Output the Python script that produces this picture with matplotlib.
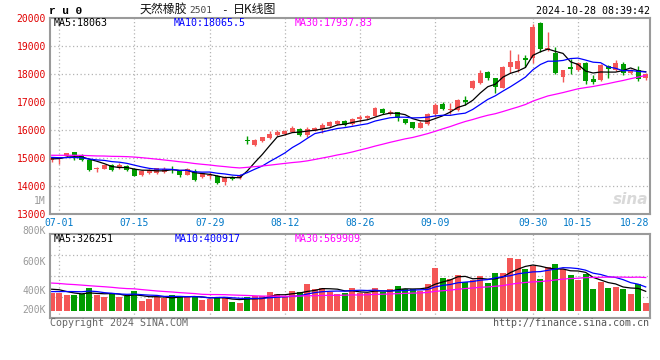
import numpy as np
import pandas as pd
import matplotlib
matplotlib.use("Agg")
import matplotlib.pyplot as plt
from matplotlib.transforms import ScaledTranslation

plt.rcParams['font.family'] = ['DejaVu Sans Mono']

# ru2501 daily bars, 2024-06-28 .. 2024-10-28
trade_days = pd.bdate_range('2024-06-28', '2024-10-28')
holidays = pd.to_datetime(['2024-09-16', '2024-09-17', '2024-10-01', '2024-10-02',
                           '2024-10-03', '2024-10-04', '2024-10-07'])
trade_days = trade_days[~trade_days.isin(holidays)]

open_ = [14930, 14960, 15070, 15210, 15110, 14920, 14600, 14620, 14740, 14650,
         14720, 14600, 14390, 14460, 14460, 14510, 14600, 14550, 14400, 14550,
         14320, 14360, 14350, 14160, 14330, 14280, 15630, 15470, 15590, 15710,
         15820, 15850, 15940, 16030, 15830, 15970, 16030, 16140, 16210, 16320,
         16200, 16380, 16420, 16510, 16740, 16560, 16630, 16380, 16270, 16080,
         16210, 16570, 16920, 16700, 16710, 17070, 17490, 17690, 18070, 17850,
         17510, 18260, 18170, 18560, 18560, 19830, 18860, 18760, 17900, 18240,
         18140, 18400, 17820, 17790, 18290, 18140, 18360, 18030, 18160, 17850]
high = [15020, 15040, 15190, 15230, 15140, 14950, 14680, 14760, 14790, 14830,
        14760, 14640, 14580, 14600, 14660, 14680, 14730, 14580, 14650, 14590,
        14480, 14500, 14380, 14340, 14360, 14420, 15790, 15680, 15760, 15960,
        16000, 16000, 16150, 16060, 16120, 16110, 16240, 16310, 16360, 16340,
        16420, 16520, 16540, 16810, 16800, 16730, 16660, 16410, 16300, 16330,
        16600, 16980, 16990, 16950, 17100, 17210, 17800, 18140, 18110, 17870,
        18270, 18860, 18700, 18680, 19780, 19870, 19510, 18950, 18160, 18520,
        18430, 18420, 17960, 18340, 18310, 18500, 18430, 18190, 18290, 18020]
low = [14840, 14780, 15050, 14940, 14910, 14530, 14510, 14590, 14540, 14620,
       14530, 14340, 14360, 14420, 14430, 14480, 14450, 14330, 14380, 14190,
       14290, 14250, 14080, 14020, 14220, 14260, 15490, 15420, 15560, 15690,
       15800, 15820, 15920, 15800, 15740, 15950, 15900, 16100, 16190, 16150,
       16170, 16290, 16400, 16490, 16570, 16540, 16310, 16230, 16050, 16060,
       16190, 16480, 16700, 16560, 16690, 16900, 17450, 17650, 17800, 17310,
       17490, 18030, 18080, 18240, 18380, 18800, 18820, 18000, 17720, 18000,
       18120, 17640, 17640, 17760, 17850, 18120, 17950, 18000, 17740, 17800]
close = [14990, 15020, 15170, 15090, 14930, 14580, 14650, 14740, 14580, 14750,
         14580, 14370, 14540, 14570, 14640, 14600, 14560, 14400, 14600, 14220,
         14450, 14410, 14120, 14310, 14240, 14390, 15610, 15640, 15740, 15840,
         15940, 15960, 16060, 15830, 16020, 16080, 16190, 16280, 16330, 16170,
         16380, 16450, 16500, 16790, 16620, 16650, 16420, 16260, 16080, 16240,
         16570, 16890, 16750, 16750, 17070, 16990, 17750, 18050, 17870, 17520,
         18240, 18440, 18460, 18500, 19690, 18880, 18920, 18050, 18140, 18190,
         18400, 17750, 17700, 18320, 18170, 18400, 18030, 18160, 17810, 18000]
# volume, thousand lots
volume = [306, 306, 267, 267, 284, 391, 260, 238, 284, 238,
          250, 340, 170, 192, 238, 221, 267, 238, 226, 255,
          182, 192, 238, 226, 153, 136, 238, 250, 255, 323,
          289, 238, 335, 323, 454, 374, 391, 323, 289, 306,
          386, 294, 294, 386, 318, 369, 420, 369, 369, 335,
          454, 726, 556, 539, 607, 488, 522, 590, 471, 641,
          641, 896, 879, 709, 760, 539, 743, 794, 709, 607,
          522, 629, 369, 488, 386, 403, 369, 284, 454, 136]

# 29 sessions before the window (not drawn, only feed the moving averages;
# estimated from where the MA lines start)
earlier_close = [15060, 15150, 15100, 15000, 14900, 14950, 14850, 14900, 14850, 14800,
                 14850, 15200, 15350, 15450, 15500, 15420, 15370, 15420, 15320, 15270,
                 15150, 15100, 15050, 15080, 15000, 14960, 14920, 15010, 14960]
earlier_volume = [520, 610, 480, 560, 700, 530, 490, 580, 620, 510,
                  470, 560, 540, 600, 480, 520, 550, 470, 500, 560,
                  300, 260, 280, 310, 270, 350, 420, 390, 360]

tick_dates = ['07-01', '07-15', '07-29', '08-12', '08-26', '09-09', '09-30', '10-15', '10-28']
price_ticks = [13000, 14000, 15000, 16000, 17000, 18000, 19000, 20000]
vol_labels = ['1M', '800K', '600K', '400K', '200K']

RED, GREEN = '#f45656', '#009c00'
GRID = '#b4b4b4'
MA_COLORS = {5: 'black', 10: '#0000ff', 30: '#ff00ff'}

open_, high, low, close = map(np.array, (open_, high, low, close))
volume = np.array(volume)
x = np.arange(len(close))
n_prev = len(earlier_close)
closes_all = pd.Series(earlier_close + list(close))
vols_all = pd.Series(earlier_volume + list(volume))

W, H = 660, 360
fig = plt.figure(figsize=(W / 100, H / 100), dpi=100)


def box(l, t, r, b):
    return [l / W, 1 - b / H, (r - l) / W, (b - t) / H]


def ftext(px, py, s, **kw):
    fig.text(px / W, 1 - py / H, s, **kw)


ax = fig.add_axes(box(50, 18, 649.5, 214))
axv = fig.add_axes(box(50, 234.3, 649.5, 318.3))
xlim = (-0.226, 79.505)

# --- price panel ---
up = close >= open_
col = np.where(up, RED, GREEN)
ax.vlines(x, low, high, colors=col, lw=1, zorder=2)
ax.bar(x, np.maximum(np.abs(close - open_), 30), bottom=np.minimum(open_, close),
       width=0.66, color=col, linewidth=0, zorder=3)
for n, c in MA_COLORS.items():
    ma = closes_all.rolling(n).mean().iloc[n_prev:].values
    ax.plot(x, ma, color=c, lw=0.9, zorder=4)

ax.set_xlim(*xlim)
ax.set_ylim(13000, 20000)
for p in price_ticks[1:-1]:
    ax.axhline(p, color=GRID, lw=0.9, ls=(0, (1, 2)), zorder=1)

day_str = trade_days.strftime('%m-%d')
tick_idx = [int(np.where(day_str == d)[0][0]) for d in tick_dates]
for a in (ax, axv):
    for xi in tick_idx[:-1]:
        a.axvline(xi, color=GRID, lw=0.9, ls=(0, (1, 2)), zorder=1)

ax.set_yticks(price_ticks, [str(p) for p in price_ticks])
ax.set_xticks(tick_idx, tick_dates)
ax.tick_params(axis='y', length=0, pad=3, labelsize=7, labelcolor='#e00000')
ax.tick_params(axis='x', length=0, pad=3, labelsize=7, labelcolor='#0078c8')
last = ax.get_xticklabels()[-1]
last.set_ha('right')
last.set_transform(last.get_transform() + ScaledTranslation(4 / 100, 0, fig.dpi_scale_trans))

ax.text(79.4, 13250, 'sina', ha='right', va='bottom', color='#d9d9d9', fontsize=11,
        fontweight='bold', style='italic', family='DejaVu Sans', zorder=0)

# --- volume panel ---
axv.bar(x, volume, width=0.8, color=col, linewidth=0, zorder=2)
for n, c in MA_COLORS.items():
    ma = vols_all.rolling(n).mean().iloc[n_prev:].values
    axv.plot(x, ma, color=c, lw=0.9, zorder=4)
axv.set_xlim(*xlim)
vlo, vhi = -129.2, 1298.8
axv.set_ylim(vlo, vhi)
for f in (0.25, 0.5, 0.75):
    axv.axhline(vlo + f * (vhi - vlo), color=GRID, lw=0.9, ls=(0, (1, 2)), zorder=1)
axv.set_xticks([])
axv.set_yticks([])

for a in (ax, axv):
    for s in a.spines.values():
        s.set_color('#9a9a9a')
        s.set_linewidth(1.5)

# --- texts ---
ftext(49, 11, 'r u 0', fontsize=8, fontweight='bold', va='center', ha='left',
      family='Liberation Mono')
cjk = ['Noto Sans CJK SC', 'DejaVu Sans']
ftext(140, 10, '天然橡胶', fontsize=8.6, va='center', family=cjk, color='#111111')
ftext(189, 10.5, '2501', fontsize=6.8, va='center', color='#444444')
ftext(221.5, 10, '-', fontsize=8, va='center', color='#111111')
ftext(233, 10, '日K线图', fontsize=8.6, va='center', family=cjk, color='#111111')
ftext(649.5, 11.5, '2024-10-28 08:39:42', fontsize=7.2, va='center', ha='right')

ftext(54, 23.5, 'MA5:18063', fontsize=7.2, va='center', color='black')
ftext(174, 23.5, 'MA10:18065.5', fontsize=7.2, va='center', color='#0000ff')
ftext(294.5, 23.5, 'MA30:17937.83', fontsize=7.2, va='center', color='#ff00ff')

ftext(54, 238.5, 'MA5:326251', fontsize=7.2, va='center', color='black')
ftext(174.5, 238.5, 'MA10:400917', fontsize=7.2, va='center', color='#0000ff')
ftext(294.5, 238.5, 'MA30:569909', fontsize=7.2, va='center', color='#ff00ff')

for lab, py in zip(vol_labels, [201, 231, 262, 291, 310]):
    ftext(46, py, lab, fontsize=7, va='center', ha='right', color='#9a9a9a')

ftext(49.5, 323, 'Copyright 2024 SINA.COM', fontsize=7.2, va='center', color='#666666')
ftext(649.5, 323.5, 'http://finance.sina.com.cn', fontsize=7.2, va='center', ha='right',
      color='#555555')

fig.savefig('out.png', dpi=100)
